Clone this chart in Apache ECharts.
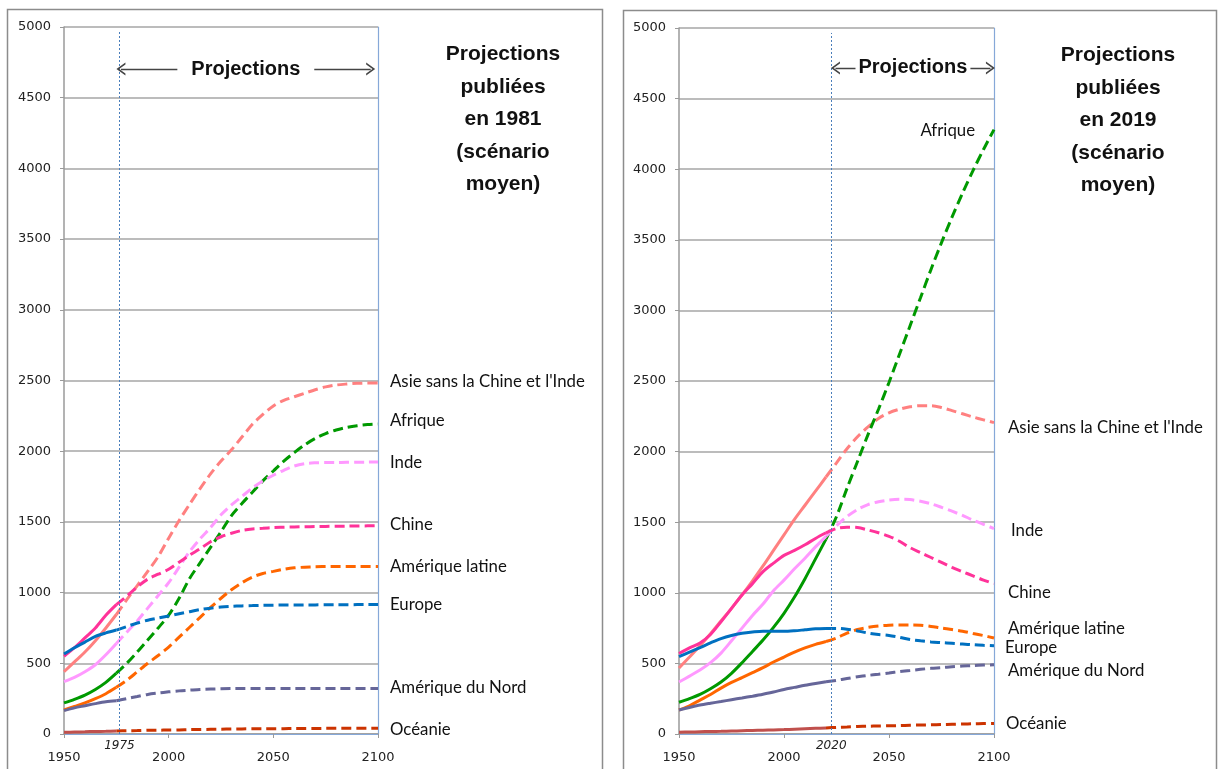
<!DOCTYPE html>
<html><head><meta charset="utf-8">
<script src="https://cdn.jsdelivr.net/npm/echarts/dist/echarts.min.js"></script>
<style>html,body{margin:0;padding:0;background:#fff}#c{width:1219px;height:769px}</style>
</head><body><div id="c"></div><script>
// ---------- DATA ----------
const years = [1950,1955,1960,1965,1970,1975,1980,1985,1990,1995,2000,2005,2010,2015,2020,2025,2030,2035,2040,2045,2050,2055,2060,2065,2070,2075,2080,2085,2090,2095,2100];
const regions = ['Asie sans la Chine et l\'Inde','Afrique','Inde','Chine','Amérique latine','Europe','Amérique du Nord','Océanie'];

// Projections 1981 (observed up to 1975)
const asie1981    = [440,510,580,660,750,845,950,1050,1150,1255,1385,1510,1625,1735,1840,1930,2010,2100,2190,2260,2320,2360,2385,2410,2435,2455,2468,2475,2480,2482,2482];
const afrique1981 = [220,245,275,315,365,430,500,580,665,750,840,960,1100,1210,1320,1430,1545,1630,1710,1790,1860,1930,1990,2045,2090,2125,2150,2168,2180,2188,2193];
const inde1981    = [370,400,440,490,560,640,720,800,890,980,1070,1180,1290,1380,1460,1550,1620,1680,1740,1790,1830,1865,1895,1912,1918,1920,1920,1921,1922,1923,1924];
const chine1981   = [550,610,680,750,840,915,975,1040,1095,1130,1165,1215,1265,1310,1360,1395,1420,1440,1450,1455,1460,1462,1464,1466,1467,1468,1469,1470,1471,1472,1473];
const amlat1981   = [170,195,220,250,285,330,380,440,500,555,615,685,755,825,895,960,1020,1070,1110,1135,1150,1165,1175,1180,1183,1184,1185,1185,1185,1185,1185];
const europe1981  = [566,610,650,690,715,735,760,785,805,820,835,850,865,880,890,898,903,906,908,910,911,912,912,913,913,914,914,914,915,915,915];
const amnord1981  = [165,185,200,215,228,235,250,265,280,290,298,305,310,315,318,320,321,321,321,322,322,322,322,322,322,322,322,322,322,322,322];
const oceanie1981 = [12,14,16,18,19,21,23,24,26,27,28,29,31,32,33,34,35,36,37,37,38,38,39,39,39,40,40,40,40,40,40];

// Projections 2019 (observed up to 2020)
const asie2019    = [467,545,625,710,800,890,985,1085,1190,1300,1410,1520,1620,1720,1820,1920,2020,2105,2175,2235,2275,2300,2318,2325,2325,2312,2290,2268,2245,2225,2205];
const afrique2019 = [225,250,280,320,368,430,505,585,665,755,855,970,1100,1240,1380,1540,1740,1930,2120,2300,2490,2690,2890,3090,3290,3480,3660,3830,3990,4140,4280];
const inde2019    = [368,410,453,505,573,660,750,840,920,1015,1090,1170,1245,1325,1400,1475,1540,1590,1625,1645,1657,1662,1660,1648,1630,1605,1578,1548,1515,1485,1455];
const chine2019   = [570,610,645,705,795,890,985,1065,1150,1210,1265,1300,1340,1385,1425,1455,1465,1462,1445,1425,1400,1365,1320,1285,1250,1215,1180,1150,1120,1090,1065];
const amlat2019   = [170,200,240,280,325,365,400,435,470,510,545,580,610,635,655,680,715,740,755,765,770,772,772,770,762,750,740,728,712,697,680];
const europe2019  = [548,580,612,645,676,698,713,722,728,728,727,731,738,745,748,748,742,730,715,705,698,685,670,660,652,647,642,637,632,628,625];
const amnord2019  = [170,188,205,218,230,243,255,268,282,298,315,330,345,358,370,380,393,405,415,423,432,442,450,458,465,470,476,481,485,488,490];
const oceanie2019 = [13,14,16,18,19,21,23,25,27,29,31,34,37,40,43,47,50,53,55,57,58,60,62,64,65,67,69,71,72,74,75];

const splitYears = [1975, 2020];
const markerYears = [1976.5, 2022.5];
const markerLabels = ['1975', '2020'];
const titles = ['Projections\npubliées\nen 1981\n(scénario\nmoyen)', 'Projections\npubliées\nen 2019\n(scénario\nmoyen)'];

// ---------- STYLE ----------
const solidColors = ['#FF8080','#009900','#FF99FF','#FF3399','#FF6600','#0070C0','#666699','#C0504D'];
const dashColors  = ['#FF8080','#009900','#FF99FF','#FF3399','#FF6600','#0070C0','#666699','#CC3300'];
const panelData = [
  [asie1981, afrique1981, inde1981, chine1981, amlat1981, europe1981, amnord1981, oceanie1981],
  [asie2019, afrique2019, inde2019, chine2019, amlat2019, europe2019, amnord2019, oceanie2019]
];
// label offsets [dx, dy] per panel and region
const labelOffsets = [
  [[12,-1],[12,-3],[12,1],[12,-1],[12,0],[12,0],[12,-1],[12,1]],
  [[14,5],[-19,1],[17,2],[14,9],[14,-9],[11,2],[14,6],[12,0]]
];
const FONT_AX = 'DejaVu Sans';
const FONT_LBL = 'Lato';
const AX_COLOR = '#9a9a9a';
const BORDER_BLUE = '#86a8d8';

const grids = [
  {left:64, top:27, width:314, height:707},
  {left:679, top:28, width:315, height:706}
];

const xAxes = [], yAxes = [], series = [];
grids.forEach((g, gi) => {
  xAxes.push({
    type:'value', gridIndex:gi, min:1950, max:2100, interval:50,
    axisLine:{show:true, lineStyle:{color:AX_COLOR, width:1.5}},
    axisTick:{show:true, length:4, lineStyle:{color:AX_COLOR}},
    axisLabel:{fontFamily:FONT_AX, fontSize:13, color:'#222', margin:17, formatter: v => String(v)},
    splitLine:{show:false}
  });
  xAxes.push({
    type:'value', gridIndex:gi, min:1950, max:2100, position:'top',
    axisLine:{show:true, lineStyle:{color:BORDER_BLUE, width:1.2}},
    axisTick:{show:false}, axisLabel:{show:false}, splitLine:{show:false}
  });
  yAxes.push({
    type:'value', gridIndex:gi, min:0, max:5000, interval:500,
    axisLine:{show:true, lineStyle:{color:AX_COLOR, width:1.5}},
    axisTick:{show:true, length:4, lineStyle:{color:AX_COLOR}},
    axisLabel:{fontFamily:FONT_AX, fontSize:13, color:'#222', margin:13, formatter: v => String(v)},
    splitLine:{show:true, lineStyle:{color:'#a6a6a6', width:1.5}}
  });
  yAxes.push({
    type:'value', gridIndex:gi, min:0, max:5000, position:'right',
    axisLine:{show:true, lineStyle:{color:BORDER_BLUE, width:1.2}},
    axisTick:{show:false}, axisLabel:{show:false}, splitLine:{show:false}
  });
});

panelData.forEach((arrs, pi) => {
  const split = splitYears[pi];
  arrs.forEach((vals, ri) => {
    const solid = [], dashed = [];
    years.forEach((y, i) => {
      if (y <= split) solid.push([y, vals[i]]);
      if (y >= split) dashed.push([y, vals[i]]);
    });
    series.push({
      type:'line', name:regions[ri]+' '+pi, xAxisIndex:pi*2, yAxisIndex:pi*2,
      data:solid, showSymbol:false, smooth:0.3,
      lineStyle:{color:solidColors[ri], width:3}, z:3, silent:true
    });
    const off = labelOffsets[pi][ri];
    series.push({
      type:'line', name:regions[ri]+' proj '+pi, xAxisIndex:pi*2, yAxisIndex:pi*2,
      data:dashed, showSymbol:false, smooth:0.3,
      lineStyle:{color:dashColors[ri], width:3, type:[10,5], cap:'butt'}, z:3, silent:true,
      endLabel:{show:true, formatter:regions[ri], fontFamily:FONT_LBL, fontSize:16.8, color:'#111',
        align: off[0] < 0 ? 'right' : 'left', distance:0, offset:off}
    });
  });
});

// annotation series (marker line + "Projections" arrow) per panel
const arrowY = [4703, 4717];
const arrowX = [[1977.2, 2096.5], [2024.5, 2098.3]];
const arrowPad = [[0,14],[0,3]];
const chevron = 'path://M5,0 L10,10 L8.5,10 L5,3 L1.5,10 L0,10 Z';
[0,1].forEach(pi => {
  series.push({
    type:'line', xAxisIndex:pi*2, yAxisIndex:pi*2, data:[], silent:true,
    markLine:{
      silent:true, animation:false,
      data:[
        [{coord:[markerYears[pi], 0], symbol:'none',
          label:{show:true, position:'start', formatter:markerLabels[pi], fontStyle:'italic', fontFamily:FONT_AX, fontSize:12, color:'#222', distance:6},
          lineStyle:{color:'#4a7ebb', width:1, type:[2,2]}},
         {coord:[markerYears[pi], 4965], symbol:'none'}],
        [{coord:[arrowX[pi][0], arrowY[pi]], symbol:chevron, symbolSize:[13,9],
          label:{show:true, position:'middle', verticalAlign:'middle', formatter:'Projections', fontFamily:'Liberation Sans', fontWeight:'bold', fontSize:20, color:'#111', backgroundColor:'#fff', padding:arrowPad[pi], distance:0},
          lineStyle:{color:'#444', width:1.3, type:'solid'}},
         {coord:[arrowX[pi][1], arrowY[pi]], symbol:chevron, symbolSize:[13,9]}]
      ]
    }
  });
});

const chart = echarts.init(document.getElementById('c'), null, {renderer:'canvas'});
chart.setOption({
  animation:false,
  backgroundColor:'#fff',
  grid: grids.map(g => Object.assign({containLabel:false, outerBoundsMode:'none'}, g)),
  xAxis: xAxes,
  yAxis: yAxes,
  title: [
    {text:titles[0], left:503, top:38, textAlign:'center', padding:0,
     textStyle:{fontFamily:'Liberation Sans', fontWeight:'bold', fontSize:21, lineHeight:32.5, color:'#111'}},
    {text:titles[1], left:1118, top:39, textAlign:'center', padding:0,
     textStyle:{fontFamily:'Liberation Sans', fontWeight:'bold', fontSize:21, lineHeight:32.5, color:'#111'}}
  ],
  graphic: [
    {type:'rect', shape:{x:7.5, y:9.5, width:595, height:800}, style:{fill:null, stroke:'#8c8c8c', lineWidth:1.5}, silent:true, z:-1},
    {type:'rect', shape:{x:623.5, y:10.5, width:593, height:800}, style:{fill:null, stroke:'#8c8c8c', lineWidth:1.5}, silent:true, z:-1}
  ],
  series: series
});
</script></body></html>
